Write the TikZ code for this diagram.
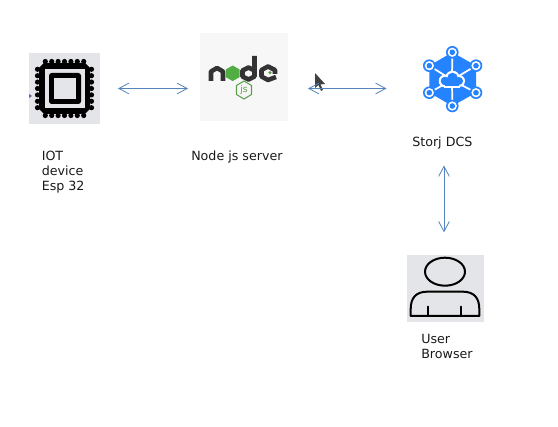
\documentclass[tikz,border=0pt]{standalone}
\usepackage{fontspec}
\setmainfont{DejaVu Sans}
\usetikzlibrary{arrows.meta}
\definecolor{conn}{HTML}{5583BC}
\definecolor{iconbg}{HTML}{E4E5E8}
\definecolor{nodebg}{HTML}{F7F7F7}
\definecolor{storjblue}{HTML}{2683FF}
\definecolor{nodedark}{HTML}{333333}
\definecolor{nodegreen}{HTML}{5FA04E}
\tikzset{
  iconbox/.style={inner sep=0pt,outer sep=0pt,draw=none},
  link/.style={draw=conn,line width=0.7pt,{Straight Barb[length=7.5pt,width=8pt,line width=0.6pt]}-{Straight Barb[length=7.5pt,width=8pt,line width=0.6pt]}},
  caption/.style={inner sep=0pt,anchor=north west,align=left,font=\fontsize{9.5pt}{11.25pt}\selectfont,text=black!90},
  logostroke/.style={draw=nodedark,line width=3.4pt,line join=round},
  userline/.style={draw=black,line width=1.5pt,line cap=round,line join=round}
}
\begin{document}
\begin{tikzpicture}[x=0.75pt,y=-0.75pt]
\useasboundingbox (0,0) rectangle (558,427);
% boxes
\node[iconbox,fill=iconbg,minimum width=53.25pt,minimum height=53.25pt] (iot) at (64.5,88.5) {};
\node[iconbox,fill=nodebg,minimum width=66pt,minimum height=66pt] (nodejs) at (244,77) {};
\node[iconbox,minimum width=48pt,minimum height=51pt] (storj) at (452.5,79.5) {};
\node[iconbox,fill=iconbg,minimum width=57.75pt,minimum height=50.25pt] (user) at (445.5,288.5) {};
% chip
\foreach \k in {-3,...,3}{
  \fill[black] (64.5+\k*6.4,61.5) circle[radius=2.6];
  \fill[black] (64.5+\k*6.4,115.5) circle[radius=2.6];
  \fill[black] (37.5,88.5+\k*6.4) circle[radius=2.6];
  \fill[black] (91.5,88.5+\k*6.4) circle[radius=2.6];
}
\fill[black] (44,63) -- (85,63) -- (90,68) -- (90,109) -- (85,114) -- (44,114) -- (39,109) -- (39,68) -- cycle;
\fill[iconbg] (45,69) rectangle (85,108);
\fill[black,rounded corners=2pt] (49,73) rectangle (81,104);
\fill[iconbg] (54,78) rectangle (76,99);
\fill[conn!70!purple] (29,94) -- (32,96) -- (29,98) -- cycle;
% node logo
\draw[logostroke] (211,81) -- (211,71.5) -- (217,68) -- (223,71.5) -- (223,81);
\fill[nodegreen!85!green] (232.7,65.5) -- (239.5,69.4) -- (239.5,77.2) -- (232.7,81.1) -- (225.9,77.2) -- (225.9,69.4) -- cycle;
\draw[logostroke] (254.5,56) -- (254.5,76.5) -- (248.5,79.5) -- (242.5,76.5) -- (242.5,70.5) -- (248.5,67.5) -- (254.5,70.5);
\draw[logostroke] (276,77) -- (268,80) -- (261.5,76.5) -- (261.5,70) -- (268,66.5) -- (275,70) -- (275,74);
\fill[nodegreen] (270,72.7) circle[radius=1.8];
\draw[nodegreen,line width=0.8pt] (244,81) -- (251.5,85.5) -- (251.5,94.5) -- (244,99) -- (236.5,94.5) -- (236.5,85.5) -- cycle;
\node[inner sep=0pt,text=nodegreen,font=\fontsize{7pt}{7pt}\selectfont] (jslabel) at (244,90) {js};
% storj logo
\fill[storjblue] (452.3,52.3) -- (476,65.7) -- (476,92.7) -- (452.3,106) -- (429.3,92.7) -- (429.3,65.7) -- cycle;
\foreach \p in {(452.3,52.3),(476,65.7),(476,92.7),(452.3,106),(429.3,92.7),(429.3,65.7)}{
  \draw[white,line width=1.3pt] (452,80) -- \p;
  \fill[storjblue] \p circle[radius=6.3];
  \fill[white] \p circle[radius=4.6];
  \fill[storjblue] \p circle[radius=2.8];
}
\fill[white] (445,81) circle[radius=6.3];
\fill[white] (452.5,78) circle[radius=7.3];
\fill[white] (459,81) circle[radius=6];
\fill[white] (444,82) rectangle (460,88.5);
\fill[storjblue] (445,81) circle[radius=4.3];
\fill[storjblue] (452.5,78) circle[radius=5.3];
\fill[storjblue] (459,81) circle[radius=4];
\fill[storjblue] (445,81) rectangle (459,86);
% user icon
\draw[userline] (445,271.7) ellipse[x radius=20,y radius=14];
\draw[userline] (410.7,316) -- (410.7,309) .. controls (410.7,298) and (416,291.7) .. (427,291.7) -- (463,291.7) .. controls (474,291.7) and (479.3,298) .. (479.3,309) -- (479.3,316) -- cycle;
\draw[userline] (428.3,306.7) -- (428.3,316);
\draw[userline] (461,306.7) -- (461,316);
% cursor
\fill[black!75] (315,73) -- (315,88) -- (318.5,85) -- (321,91) -- (323,90) -- (320.5,84.5) -- (325,84) -- cycle;
% connectors
\draw[link,shorten <=13.5pt,shorten >=9pt] (iot.east) -- (nodejs.west |- iot.east);
\draw[link,shorten <=15pt,shorten >=25.5pt] (nodejs.east |- iot.east) -- (storj.west |- iot.east);
\draw[link,shorten <=39pt,shorten >=17pt] (storj.south -| 444,0) -- (user.north -| 444,0);
% captions
\node[caption] (iotlabel) at (41.5,151) {IOT\\device\\Esp 32};
\node[caption] (nodelabel) at (191,151) {Node js server};
\node[caption] (storjlabel) at (412,137) {Storj DCS};
\node[caption] (userlabel) at (421,334) {User\\Browser};
\end{tikzpicture}
\end{document}
